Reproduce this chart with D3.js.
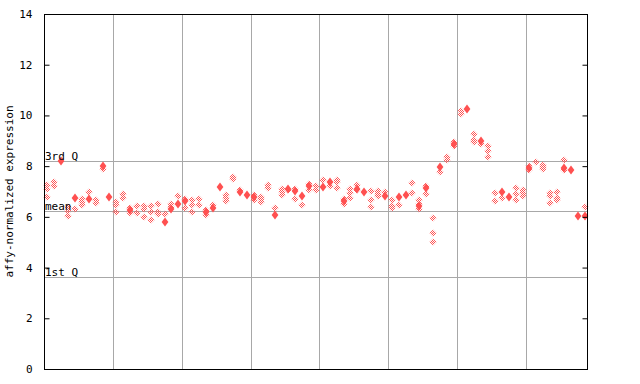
<!DOCTYPE html>
<html>
<head>
<meta charset="utf-8">
<script src="https://cdn.jsdelivr.net/npm/d3@7"></script>
<style>
  html, body { margin: 0; padding: 0; background: #fff; }
  svg { display: block; }
  text { font-family: "DejaVu Sans Mono", "Liberation Mono", monospace; font-size: 11px; fill: #000; }
</style>
</head>
<body>
<svg id="chart" width="640" height="384"></svg>
<script>
// ---- data ----
const samples = ["s01","s02","s03","s04","s05","s06","s07","s08","s09","s10",
  "s11","s12","s13","s14","s15","s16","s17","s18","s19","s20",
  "s21","s22","s23","s24","s25","s26","s27","s28","s29","s30",
  "s31","s32","s33","s34","s35","s36","s37","s38","s39","s40",
  "s41","s42","s43","s44","s45","s46","s47","s48","s49","s50",
  "s51","s52","s53","s54","s55","s56","s57","s58","s59","s60",
  "s61","s62","s63","s64","s65","s66","s67","s68","s69","s70",
  "s71","s72","s73","s74","s75","s76","s77","s78","s79"];

// single replicate values (drawn as open checkered diamonds)
const replicateValues = [
  [7.27,7.08,6.77],[7.39,7.23],[],[6.40,6.25,6.03],[6.32],[6.71,6.59,6.48],[7.00],[6.65,6.56],[7.90],[],
  [6.59,6.48,6.21],[6.90,6.75],[6.35,6.17],[6.42,6.17],[6.42,6.31,6.01],[6.42,6.21,5.89],[6.52,6.21,6.13],[6.13],[6.50,6.40],[6.84],
  [6.72,6.35],[6.65,6.48,6.18],[6.69,6.48],[6.29,6.06],[6.45],[],[6.88,6.76,6.63],[7.57,7.48],[7.05],[],
  [6.88,6.65],[6.80,6.69,6.59],[7.26,7.15],[6.35],[7.11,7.00,6.88],[7.04],[7.11,6.72],[6.46],[7.31,7.05],[7.22,7.04],
  [7.47],[7.22],[7.47,7.37,7.15],[6.69,6.52],[7.11,6.96,6.76],[7.27,7.04],[],[7.02,6.68,6.37],[7.02,6.92,6.81],[6.98],
  [6.68,6.44,6.35],[6.48],[],[7.32,6.96],[6.65,6.52,6.30],[7.20,6.92],[5.97,5.38,4.99],[7.76],[8.36,8.26],[8.95,8.78],
  [10.16,10.07],[],[9.25,9.02,8.95],[8.89],[8.80,8.59,8.37],[6.96,6.64],[6.76],[],[7.13,6.89,6.68],[7.05,6.94,6.81],
  [8.02,7.86],[8.15],[8.06,7.96,7.87],[6.94,6.82,6.55],[6.97,6.74,6.65],[8.26,7.86],[],[],[6.37]
];

// overlapping replicate values (drawn as solid diamonds)
const overlapValues = [
  [],[],[8.22],[],[6.74],[],[6.71],[],[8.02],[6.80],
  [],[],[6.29],[],[],[],[],[5.80],[6.31],[6.51],
  [6.61],[],[],[6.19],[6.35],[7.19],[],[],[6.98],[6.86],
  [6.78],[],[],[6.08],[],[7.11],[7.02],[6.82],[7.20],[],
  [7.17],[7.38],[],[6.64],[],[7.11],[7.00],[],[],[6.81],
  [],[6.77],[6.88],[],[6.41],[7.13],[],[7.97],[],[8.86],
  [],[10.25],[],[8.99],[],[],[7.00],[6.78],[],[],
  [7.92],[],[],[],[],[7.94],[7.83],[6.02],[6.02]
];

const yTicks = [0, 2, 4, 6, 8, 10, 12, 14];
const refLines = [
  { label: "3rd Q", value: 8.20 },
  { label: "mean",  value: 6.22 },
  { label: "1st Q", value: 3.61 }
];
const groupBoundaries = ["s11","s21","s31","s41","s51","s61","s71"];
const yLabel = "affy-normalized expression";

// ---- layout ----
const mLeft = 44, mRight = 588, mTop = 14, mBottom = 369;
const red = "#ff5050";
const gridColor = "#a8a8a8";

const svg = d3.select("#chart");

const x = d3.scaleBand().domain(samples).range([mLeft, mRight]).padding(0);
const y = d3.scaleLinear().domain([0, 14]).range([mBottom, mTop]);

// checker pattern for open diamonds
const defs = svg.append("defs");
const pat = defs.append("pattern")
  .attr("id", "checker").attr("patternUnits", "userSpaceOnUse")
  .attr("width", 2).attr("height", 2);
pat.append("rect").attr("x", 0).attr("y", 0).attr("width", 1).attr("height", 1).attr("fill", red);
pat.append("rect").attr("x", 1).attr("y", 1).attr("width", 1).attr("height", 1).attr("fill", red);

// vertical grid lines
svg.append("g").selectAll("line").data(groupBoundaries).join("line")
  .attr("x1", d => Math.round(x(d)) + 0.5).attr("x2", d => Math.round(x(d)) + 0.5)
  .attr("y1", mTop).attr("y2", mBottom)
  .attr("stroke", gridColor).attr("stroke-width", 1);

// reference lines
svg.append("g").selectAll("line").data(refLines).join("line")
  .attr("x1", mLeft).attr("x2", mRight)
  .attr("y1", d => Math.round(y(d.value)) + 0.5).attr("y2", d => Math.round(y(d.value)) + 0.5)
  .attr("stroke", gridColor).attr("stroke-width", 1);

// points
const pts = [];
samples.forEach((s, i) => {
  replicateValues[i].forEach(v => pts.push({ s, v }));
});
const solidPts = [];
samples.forEach((s, i) => {
  overlapValues[i].forEach(v => solidPts.push({ s, v }));
});

const cx = d => x(d.s) + x.bandwidth() / 2;
function diamond(px, py, hw, hh) {
  return `M${px},${py - hh}L${px + hw},${py}L${px},${py + hh}L${px - hw},${py}Z`;
}

svg.append("g").selectAll("path").data(pts).join("path")
  .attr("d", d => diamond(Math.round(cx(d)), Math.round(y(d.v)), 3.6, 3.6))
  .attr("fill", "url(#checker)");

svg.append("g").selectAll("path").data(solidPts).join("path")
  .attr("d", d => diamond(Math.round(cx(d)), Math.round(y(d.v)), 3.4, 4.4))
  .attr("fill", red);

// reference labels
svg.append("g").selectAll("text").data(refLines).join("text")
  .attr("x", mLeft + 1).attr("y", d => Math.round(y(d.value)) - 1)
  .text(d => d.label);

// frame
svg.append("rect").attr("x", mLeft + 0.5).attr("y", mTop + 0.5)
  .attr("width", mRight - mLeft - 1).attr("height", mBottom - mTop)
  .attr("fill", "none").attr("stroke", "#000").attr("stroke-width", 1);

// left axis (inward ticks)
const yAxisL = d3.axisLeft(y).tickValues(yTicks).tickSize(-5).tickPadding(12).tickFormat(d3.format("d"));
const gL = svg.append("g").attr("transform", `translate(${mLeft + 0.5},0)`).call(yAxisL);
gL.select(".domain").remove();
gL.selectAll("text").style("font-family", "DejaVu Sans Mono, monospace").style("font-size", "11px");

// right axis (inward ticks, no labels)
const yAxisR = d3.axisRight(y).tickValues(yTicks).tickSize(-5).tickFormat("");
const gR = svg.append("g").attr("transform", `translate(${mRight - 0.5},0)`).call(yAxisR);
gR.select(".domain").remove();

// y label
svg.append("text")
  .attr("transform", `translate(13,${(mTop + mBottom) / 2}) rotate(-90)`)
  .attr("text-anchor", "middle")
  .text(yLabel);
</script>
</body>
</html>
